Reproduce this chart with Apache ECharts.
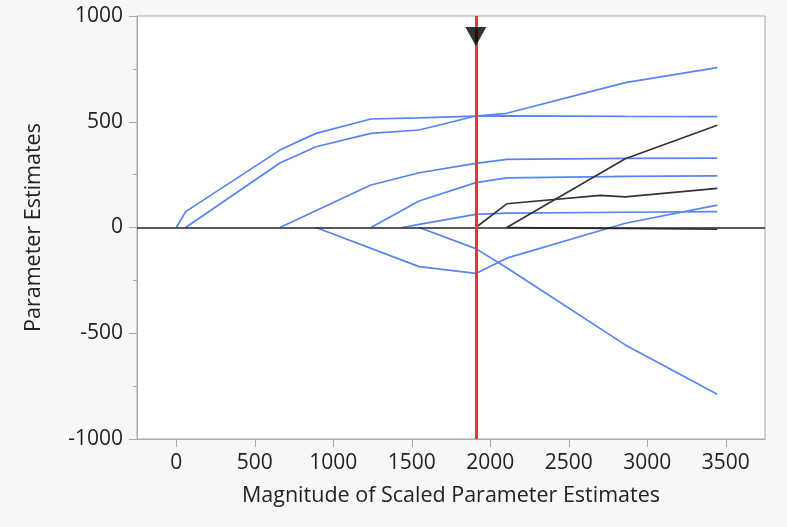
<!DOCTYPE html>
<html>
<head>
<meta charset="utf-8">
<script src="https://cdn.jsdelivr.net/npm/echarts@6/dist/echarts.min.js"></script>
<style>
  html, body { margin: 0; padding: 0; background: #f7f7f7; }
  #main { width: 787px; height: 527px; }
</style>
</head>
<body>
<div id="main"></div>
<script>
// x tick values and the selected step
const xTicks = [0, 500, 1000, 1500, 2000, 2500, 3000, 3500];
const selectedX = 1908;
const markerY = 903;

// estimate paths, [magnitude, estimate]
const pathA = [[0, 0], [60, 75], [660, 366], [890, 445], [1240, 513], [1547, 518], [1908, 527], [2105, 528], [2860, 525], [3446, 524]];
const pathB = [[60, 0], [660, 305], [890, 382], [1240, 445], [1547, 461], [1908, 527], [2105, 540], [2860, 685], [3446, 756]];
const pathC = [[660, 0], [1240, 201], [1547, 259], [1908, 303], [2105, 322], [2860, 327], [3446, 328]];
const pathD = [[1240, 0], [1547, 125], [1908, 212], [2105, 235], [2860, 242], [3446, 244]];
const pathE = [[1440, 0], [1547, 15], [1908, 62], [2105, 68], [2860, 72], [3446, 75]];
const pathF = [[890, 0], [1547, -185], [1908, -217], [2105, -145], [2860, 20], [3446, 106]];
const pathG = [[1547, 0], [1908, -100], [2105, -190], [2860, -555], [3446, -788]];
// paths drawn in black
const pathH = [[2105, 0], [2860, 325], [3446, 483]];
const pathI = [[1908, 0], [2105, 112], [2700, 152], [2860, 145], [3446, 185]];
const pathJ = [[2105, 0], [2500, -3], [2860, -5], [3446, -8]];

const bluePaths = [pathA, pathB, pathC, pathD, pathE, pathF, pathG];
const blackPaths = [pathH, pathI, pathJ];

let myChart = echarts.init(document.getElementById('main'));

const font = 'Open Sans';
const plain = function (v) { return String(v); };
let series = [];
bluePaths.forEach(function (p) {
  series.push({
    type: 'line', data: p, symbol: 'none', silent: true,
    lineStyle: { color: '#5684f7', width: 1.7 }
  });
});
blackPaths.forEach(function (p) {
  series.push({
    type: 'line', data: p, symbol: 'none', silent: true,
    lineStyle: { color: '#333333', width: 1.6 }
  });
});
// zero line and the red selected step
series.push({
  type: 'line', data: [], silent: true,
  markLine: {
    symbol: 'none', silent: true, label: { show: false },
    data: [
      { yAxis: 0, lineStyle: { color: '#222222', width: 1.6, type: 'solid' } },
      { xAxis: selectedX, lineStyle: { color: '#ef2f44', width: 3, type: 'solid' } }
    ]
  }
});
series.push({
  type: 'scatter', data: [[selectedX, markerY]], silent: true,
  symbol: 'triangle', symbolRotate: 180, symbolSize: [21, 19],
  itemStyle: { color: '#000000' }, z: 10
});

let option = {
  backgroundColor: '#f7f7f7',
  animation: false,
  grid: {
    left: 137, right: 22, top: 16, bottom: 88,
    show: true, backgroundColor: '#ffffff', borderColor: '#a8a8a8', borderWidth: 1
  },
  xAxis: {
    type: 'value', min: -250, max: 3750,
    name: 'Magnitude of Scaled Parameter Estimates',
    nameLocation: 'middle', nameGap: 46,
    nameTextStyle: { fontFamily: font, fontSize: 21.5, color: '#222222' },
    axisLine: { show: true, onZero: false, lineStyle: { color: '#a8a8a8' } },
    axisTick: { show: true, length: 8, customValues: xTicks, lineStyle: { color: '#a8a8a8' } },
    axisLabel: { customValues: xTicks, formatter: plain, margin: 14, fontFamily: font, fontSize: 21, color: '#222222' },
    splitLine: { show: false }
  },
  yAxis: {
    type: 'value', min: -1000, max: 1000, interval: 500,
    name: 'Parameter Estimates',
    nameLocation: 'middle', nameGap: 92,
    nameTextStyle: { fontFamily: font, fontSize: 21.5, color: '#222222' },
    axisLine: { show: true, onZero: false, lineStyle: { color: '#a8a8a8' } },
    axisTick: { show: true, length: 8, lineStyle: { color: '#a8a8a8' } },
    minorTick: { show: true, splitNumber: 2, length: 4, lineStyle: { color: '#a8a8a8' } },
    axisLabel: { formatter: plain, margin: 14, fontFamily: font, fontSize: 21, color: '#222222' },
    splitLine: { show: false }
  },
  series: series
};

myChart.setOption(option);
</script>
</body>
</html>
